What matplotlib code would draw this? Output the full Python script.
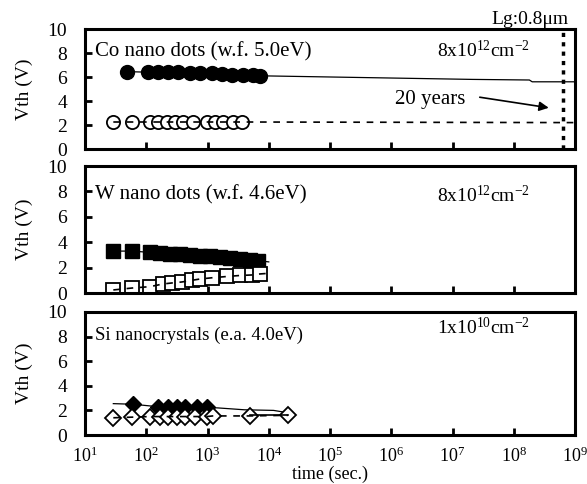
import matplotlib
matplotlib.use("Agg")
import matplotlib.pyplot as plt

plt.rcParams['font.family'] = ['Liberation Serif', 'DejaVu Serif']
plt.rcParams['mathtext.fontset'] = 'custom'
plt.rcParams['mathtext.rm'] = 'Liberation Serif'
plt.rcParams['mathtext.it'] = 'Liberation Serif:italic'

# Co nano dots
co_fill_t = [48, 107, 155, 226, 330, 515, 755, 1180, 1730, 2520, 3800, 5500, 7200]
co_fill_v = [6.45, 6.4, 6.4, 6.4, 6.4, 6.35, 6.35, 6.3, 6.25, 6.2, 6.2, 6.15, 6.1]
co_open_t = [29, 58, 115, 155, 218, 295, 400, 580, 980, 1320, 1790, 2600, 3650]
co_open_v = [2.25, 2.25, 2.25, 2.25, 2.25, 2.25, 2.25, 2.25, 2.25, 2.25, 2.25, 2.25, 2.25]
co_fit_fill_t = [7200, 2.1e7, 1.8e8, 2.0e8, 1e9]
co_fit_fill_v = [6.1, 5.8, 5.75, 5.6, 5.6]
co_fit_open_t = [3650, 1e9]
co_fit_open_v = [2.25, 2.2]

# W nano dots
w_fill_t = [29, 58, 115, 167, 245, 355, 515, 755, 1100, 1600, 2350, 3400, 4900, 6600]
w_fill_v = [3.3, 3.3, 3.2, 3.15, 3.1, 3.05, 3.0, 2.95, 2.9, 2.8, 2.75, 2.7, 2.6, 2.55]
w_open_t = [29, 58, 115, 187, 262, 384, 558, 750, 1185, 2080, 3400, 5300, 7200]
w_open_v = [0.24, 0.39, 0.5, 0.71, 0.79, 0.87, 1.0, 1.1, 1.2, 1.3, 1.38, 1.42, 1.5]
w_fit_fill_t = [6600, 1e4]
w_fit_fill_v = [2.55, 2.45]
w_fit_open_t = [7200, 1e4]
w_fit_open_v = [1.5, 1.55]

# Si nanocrystals
si_fill_t = [61, 155, 226, 318, 430, 670, 980]
si_fill_v = [2.5, 2.3, 2.3, 2.3, 2.3, 2.3, 2.3]
si_open_t = [29, 58, 115, 167, 226, 318, 430, 620, 980, 1220, 4900, 20600]
si_open_v = [1.4, 1.45, 1.5, 1.5, 1.5, 1.5, 1.5, 1.5, 1.5, 1.55, 1.55, 1.6]
si_fit_fill_t = [29, 61, 155, 980, 1500, 4000, 1.2e4, 2.1e4]
si_fit_fill_v = [2.55, 2.5, 2.3, 2.25, 2.2, 2.05, 2.0, 1.8]
si_fit_open_t = [4900, 20600]
si_fit_open_v = [1.6, 1.6]

xticks = [1e1, 1e2, 1e3, 1e4, 1e5, 1e6, 1e7, 1e8, 1e9]
xticklabels = [r'10$^{%d}$' % i for i in range(1, 10)]
yticks = [0, 2, 4, 6, 8, 10]
twenty_years = 6.3e8

fig = plt.figure(figsize=(5.87, 4.84), dpi=100)
W, H = 587.0, 484.0
ax_top = fig.add_axes([85 / W, 1 - 149 / H, 490 / W, 120 / H])
ax_mid = fig.add_axes([85 / W, 1 - 293 / H, 490 / W, 127 / H])
ax_bot = fig.add_axes([85 / W, 1 - 435 / H, 490 / W, 123 / H])

for ax in (ax_top, ax_mid, ax_bot):
    ax.set_xscale('log')
    ax.set_xlim(1e1, 1e9)
    ax.set_ylim(0, 10)
    ax.set_yticks(yticks)
    ax.set_xticks(xticks)
    ax.minorticks_off()
    ax.tick_params(direction='in', length=5, width=2, labelsize=14, pad=13)
    ax.tick_params(axis='x', labelsize=13, pad=8)
    for s in ax.spines.values():
        s.set_linewidth(2.2)
    ax.set_ylabel('Vth (V)', fontsize=14, labelpad=10)

ax_top.set_xticklabels([])
ax_mid.set_xticklabels([])
ax_bot.set_xticklabels(xticklabels)
ax_bot.set_xlabel('time (sec.)', fontsize=13, labelpad=0)

dash = (4, 4)

# top panel
ax_top.plot(co_fit_fill_t, co_fit_fill_v, color='black', lw=0.9)
ax_top.plot(co_fill_t, co_fill_v, color='black', lw=0.9, marker='o', ms=10,
            mfc='black', mec='black')
ax_top.plot(co_open_t, co_open_v, ls='none', marker='o', ms=9.5, mfc='white',
            mec='black', mew=1.3, zorder=2)
ax_top.plot(co_open_t + co_fit_open_t[1:], co_open_v + co_fit_open_v[1:],
            color='black', lw=1.2, dashes=dash, zorder=3)
ax_top.axvline(twenty_years, color='black', lw=2.5, dashes=(1.2, 1.5))
ax_top.text(0.02, 0.81, 'Co nano dots (w.f. 5.0eV)', transform=ax_top.transAxes,
            fontsize=15, va='center', ha='left')
ax_top.text(0.908, 0.82, r'8x10$^{12}$cm$^{-2}$', transform=ax_top.transAxes,
            fontsize=14, va='center', ha='right')
ax_top.text(0.986, 1.08, 'Lg:0.8μm', transform=ax_top.transAxes,
            fontsize=14, va='center', ha='right')
ax_top.text(0.704, 0.41, '20 years', transform=ax_top.transAxes,
            fontsize=15, va='center', ha='center')
ax_top.annotate('', xy=(0.952, 0.34), xytext=(0.80, 0.435),
                xycoords='axes fraction', textcoords='axes fraction',
                arrowprops=dict(arrowstyle='-|>', color='black', lw=1.2,
                                mutation_scale=14))

# middle panel
ax_mid.plot(w_fill_t + w_fit_fill_t[1:], w_fill_v + w_fit_fill_v[1:],
            color='black', lw=0.9)
ax_mid.plot(w_fill_t, w_fill_v, ls='none', marker='s', ms=10.5,
            mfc='black', mec='black')
ax_mid.plot(w_open_t, w_open_v, ls='none', marker='s', ms=10.5, mfc='white',
            mec='black', mew=1.3, zorder=2)
ax_mid.plot(w_open_t + w_fit_open_t[1:], w_open_v + w_fit_open_v[1:],
            color='black', lw=1.2, dashes=dash, zorder=3)
ax_mid.text(0.02, 0.77, 'W nano dots (w.f. 4.6eV)', transform=ax_mid.transAxes,
            fontsize=15, va='center', ha='left')
ax_mid.text(0.908, 0.77, r'8x10$^{12}$cm$^{-2}$', transform=ax_mid.transAxes,
            fontsize=14, va='center', ha='right')

# bottom panel
ax_bot.plot(si_fit_fill_t, si_fit_fill_v, color='black', lw=0.9)
ax_bot.plot(si_fill_t, si_fill_v, ls='none', marker='D', ms=8.5,
            mfc='black', mec='black')
ax_bot.plot(si_open_t, si_open_v, ls='none', marker='D', ms=8.5, mfc='white',
            mec='black', mew=1.3, zorder=2)
ax_bot.plot(si_open_t, si_open_v, color='black', lw=1.2, dashes=dash, zorder=3)
ax_bot.plot(si_fit_open_t, si_fit_open_v, color='black', lw=1.2, zorder=3)
ax_bot.text(0.02, 0.81, 'Si nanocrystals (e.a. 4.0eV)', transform=ax_bot.transAxes,
            fontsize=13.5, va='center', ha='left')
ax_bot.text(0.908, 0.87, r'1x10$^{10}$cm$^{-2}$', transform=ax_bot.transAxes,
            fontsize=14, va='center', ha='right')

fig.savefig('out.png', dpi=100)
